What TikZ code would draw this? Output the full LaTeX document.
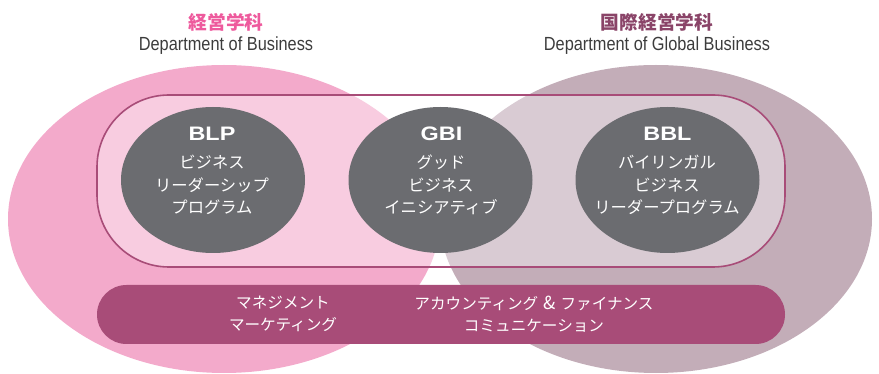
\documentclass[tikz,border=0pt]{standalone}
\usepackage{fontspec}
\setmainfont{Liberation Sans}
\newfontfamily\jp{Noto Sans CJK JP}
\usetikzlibrary{shapes.geometric}
\definecolor{pinkE}{HTML}{F3AACB}
\definecolor{pinkL}{HTML}{F8CCE0}
\definecolor{mauveE}{HTML}{C3ADB8}
\definecolor{mauveL}{HTML}{D9CBD3}
\definecolor{prog}{HTML}{6B6C70}
\definecolor{berry}{HTML}{A84C78}
\definecolor{titlepink}{HTML}{EE5A9D}
\definecolor{titlemauve}{HTML}{8A4468}
\definecolor{depttext}{HTML}{3C3C3C}
\tikzset{
  progcircle/.style={ellipse, fill=prog, minimum width=184pt, minimum height=146pt, inner sep=0pt},
  abbr/.style={text=white, font=\bfseries\fontsize{19.5}{20}\selectfont, inner sep=0pt},
  progname/.style={text=white, font=\jp\fontsize{16.3}{22.5}\selectfont, align=center, inner sep=0pt},
  jtitle/.style={font=\jp\bfseries\fontsize{18.7}{20}\selectfont, inner sep=0pt},
  dept/.style={text=depttext, font=\fontsize{19}{20}\selectfont, inner sep=0pt},
  bartext/.style={text=white, font=\jp\fontsize{15.6}{22}\selectfont, align=center, inner sep=0pt},
  barbox/.style={rectangle, fill=berry, rounded corners=29.5pt, minimum width=688pt, minimum height=59pt, inner sep=0pt}
}
\begin{document}
\begin{tikzpicture}[x=1pt,y=-1pt]
\useasboundingbox (0,0) rectangle (879,374);
% department ellipses
\fill[pinkE] (224,219) ellipse [x radius=216, y radius=154];
\fill[mauveE] (656,219) ellipse [x radius=216, y radius=154];
% inner rounded frame
\begin{scope}
  \clip[rounded corners=72pt] (97,95) rectangle (785,267);
  \fill[white] (97,95) rectangle (785,267);
  \fill[pinkL] (224,219) ellipse [x radius=216, y radius=154];
  \fill[mauveL] (656,219) ellipse [x radius=216, y radius=154];
\end{scope}
\draw[berry, line width=1.6pt, rounded corners=72pt] (97,95) rectangle (785,267);
% titles
\node[jtitle, text=titlepink] (t1) at (226,22) {経営学科};
\node[dept] (d1) at (226,46) {\scalebox{0.86}[1]{Department of Business}};
\node[jtitle, text=titlemauve] (t2) at (657,22) {国際経営学科};
\node[dept] (d2) at (657,46) {\scalebox{0.86}[1]{Department of Global Business}};
% programmes
\node[progcircle] (blp) at (213,180) {};
\node[progcircle] (gbi) at (440.5,180) {};
\node[progcircle] (bbl) at (667.5,180) {};
\node[abbr] (blpA) at (212,134) {\scalebox{1.2}[1]{BLP}};
\node[abbr] (gbiA) at (441.5,134) {\scalebox{1.2}[1]{GBI}};
\node[abbr] (bblA) at (667.5,134) {\scalebox{1.2}[1]{BBL}};
\node[progname, anchor=north] (blpN) at (212,155) {ビジネス\\リーダーシップ\\プログラム};
\node[progname, anchor=north] (gbiN) at (441,155) {グッド\\ビジネス\\イニシアティブ};
\node[progname, anchor=north] (bblN) at (667,155) {バイリンガル\\ビジネス\\リーダープログラム};
% common courses bar
\node[barbox] (bar) at (441,314.5) {};
\node[bartext] (c1) at (283,314) {マネジメント\\マーケティング};
\node[bartext] (c2) at (534,314) {アカウンティング\hspace{5pt}{\fontsize{18}{22}\selectfont\&}\hspace{5pt}ファイナンス\\コミュニケーション};
\end{tikzpicture}
\end{document}
